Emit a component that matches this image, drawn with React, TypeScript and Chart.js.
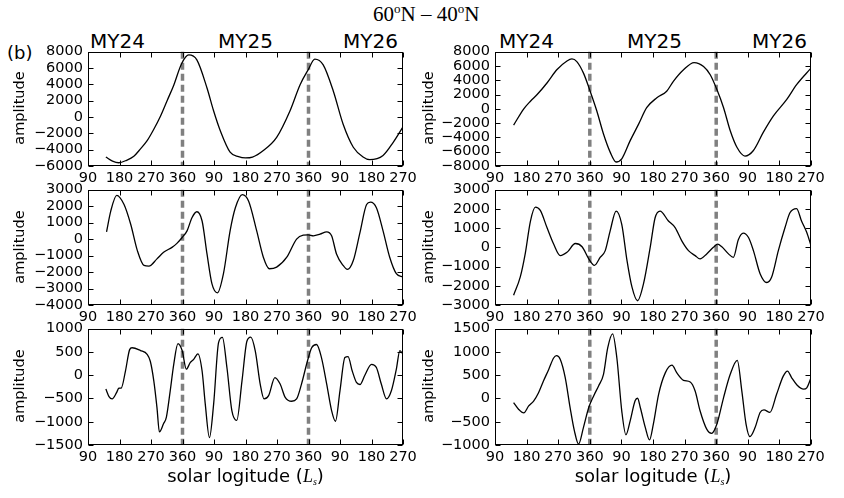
import React, { useEffect, useRef } from 'react';
import { Chart, registerables } from 'chart.js';

Chart.register(...registerables);

// ---- shared axis data ----
const X_MIN = 90;
const X_MAX = 990;
const X_STEP = 90;
const YEAR_BOUNDARIES = [360, 720];
const YEAR_LABELS = ['MY24', 'MY25', 'MY26'];

// ---- top-left panel ----
const lsTopLeft = [141, 160, 178, 200, 221, 240, 259, 278, 297, 316, 335, 357, 378, 401, 430, 449, 468, 496, 520, 540, 560, 591, 629, 667, 696, 719, 738, 762, 791, 819, 848, 876, 895, 933, 962, 990];
const ampTopLeft = [-4900, -5400, -5600, -5300, -4800, -3900, -2900, -1500, 100, 2000, 3900, 6500, 7600, 7000, 3560, 740, -1680, -4300, -4850, -5000, -4900, -4100, -2490, 740, 3960, 5780, 7100, 6390, 3160, -890, -3700, -4900, -5230, -4710, -3100, -1200];

// ---- top-right panel ----
const lsTopRight = [143, 172, 191, 210, 238, 266, 295, 309, 323, 342, 361, 380, 399, 418, 435, 451, 475, 499, 522, 551, 579, 598, 627, 657, 684, 703, 722, 741, 760, 779, 802, 826, 854, 883, 921, 949, 990];
const ampTopRight = [-2280, 0, 1070, 2000, 3620, 5465, 6700, 6985, 6620, 5000, 2470, -300, -3525, -6060, -7440, -7000, -4450, -2140, 160, 1550, 2470, 3850, 5465, 6480, 5925, 4770, 2700, 160, -3065, -5370, -6610, -5830, -3300, -990, 1320, 3390, 5700];

// ---- middle-left panel ----
const lsMidLeft = [143, 155, 172, 193, 212, 231, 250, 264, 287, 306, 330, 344, 359, 373, 387, 401, 416, 430, 444, 460, 477, 496, 511, 531, 549, 572, 591, 608, 629, 658, 686, 705, 719, 734, 753, 772, 786, 800, 819, 831, 848, 867, 886, 897, 914, 933, 952, 971, 990];
const ampMidLeft = [440, 1700, 2660, 2100, 900, -700, -1600, -1640, -1200, -800, -500, -260, 100, 500, 1300, 1660, 1100, -900, -2700, -3260, -2100, 500, 1900, 2700, 2300, 500, -1100, -1800, -1700, -1100, 0, 240, 260, 200, 300, 440, 200, -900, -1600, -1840, -1300, 400, 2100, 2240, 1900, 500, -1100, -2100, -2300];

// ---- middle-right panel ----
const lsMidRight = [143, 162, 176, 191, 205, 219, 238, 257, 276, 295, 319, 338, 357, 373, 390, 404, 418, 435, 451, 466, 480, 496, 513, 532, 546, 560, 584, 603, 622, 641, 660, 674, 693, 712, 724, 736, 755, 769, 783, 797, 812, 826, 845, 864, 878, 897, 916, 930, 949, 963, 978, 990];
const ampMidRight = [-2490, -1540, -340, 1370, 2090, 1920, 1030, 170, -430, -260, 200, 30, -600, -940, -510, -170, 860, 1890, 1200, -690, -2060, -2780, -1890, 0, 1540, 1890, 1370, 1030, 340, -170, -430, -600, -340, 0, 170, 30, -340, -520, 400, 740, 510, -170, -1370, -1830, -1540, -170, 1030, 1800, 2020, 1370, 770, 90];

// ---- bottom-left panel ----
const lsBotLeft = [141, 150, 159, 172, 178, 185, 197, 209, 216, 240, 259, 268, 278, 287, 294, 306, 314, 325, 335, 347, 359, 371, 382, 392, 404, 416, 425, 437, 449, 463, 474, 487, 501, 515, 530, 544, 555, 568, 582, 593, 606, 624, 639, 653, 672, 686, 700, 717, 729, 743, 757, 772, 786, 797, 810, 824, 833, 845, 857, 867, 881, 900, 914, 928, 943, 957, 971, 981, 990];
const ampBotLeft = [-296, -460, -510, -370, -280, -275, 90, 550, 590, 530, 450, 300, -120, -690, -1220, -1040, -900, -330, 235, 680, 530, 130, 270, 340, 460, 90, -615, -1340, -615, 700, 815, 160, -760, -970, -120, 730, 820, 520, -190, -510, -440, -50, -190, -470, -560, -510, -190, 305, 590, 660, 380, -190, -760, -990, -330, 380, 400, 90, -155, -200, 0, 235, 165, -190, -510, -330, 130, 530, 450];

// ---- bottom-right panel ----
const lsBotRight = [143, 157, 172, 186, 200, 214, 228, 243, 257, 265, 276, 290, 304, 316, 328, 342, 357, 371, 385, 399, 411, 425, 437, 451, 463, 475, 489, 496, 504, 518, 530, 541, 556, 575, 594, 608, 627, 646, 660, 674, 693, 707, 722, 741, 760, 780, 793, 805, 816, 831, 845, 856, 873, 892, 911, 923, 935, 950, 969, 978, 990];
const ampBotRight = [-88, -230, -310, -160, -55, 125, 375, 625, 870, 920, 840, 450, -200, -690, -980, -620, -195, 55, 270, 520, 1090, 1390, 875, -265, -780, -480, -50, 5, -200, -620, -890, -550, 90, 550, 715, 550, 390, 355, 160, -265, -660, -750, -550, 20, 520, 820, 160, -550, -820, -620, -300, -245, -300, 90, 480, 590, 445, 290, 200, 230, 445];

const PAD_L = 62;
const PAD_T = 12;
const PAD_R = 24;
const PAD_B = 26;
const TICK_FONT = { family: 'DejaVu Sans', size: 14.5 };

const framePlugin = {
  id: 'mplFrame',
  beforeDatasetsDraw(chart: any) {
    const { ctx, chartArea, scales } = chart;
    ctx.save();
    ctx.strokeStyle = '#808080';
    ctx.lineWidth = 3.5;
    ctx.setLineDash([7, 4]);
    for (const b of YEAR_BOUNDARIES) {
      const px = scales.x.getPixelForValue(b);
      ctx.beginPath();
      ctx.moveTo(px, chartArea.top);
      ctx.lineTo(px, chartArea.bottom);
      ctx.stroke();
    }
    ctx.restore();
  },
  afterDraw(chart: any) {
    const { ctx, chartArea, scales } = chart;
    const l = Math.round(chartArea.left) + 0.5;
    const r = Math.round(chartArea.right) - 0.5;
    const t = Math.round(chartArea.top) + 0.5;
    const b = Math.round(chartArea.bottom) - 0.5;
    ctx.save();
    ctx.strokeStyle = '#000';
    ctx.lineWidth = 1;
    ctx.setLineDash([]);
    ctx.strokeRect(l, t, r - l, b - t);
    const TL = 5;
    ctx.beginPath();
    for (const tk of scales.x.ticks) {
      const px = Math.round(scales.x.getPixelForValue(tk.value)) + 0.5;
      ctx.moveTo(px, t); ctx.lineTo(px, t + TL);
      ctx.moveTo(px, b); ctx.lineTo(px, b - TL);
    }
    for (const tk of scales.y.ticks) {
      const py = Math.round(scales.y.getPixelForValue(tk.value)) + 0.5;
      ctx.moveTo(l, py); ctx.lineTo(l + TL, py);
      ctx.moveTo(r, py); ctx.lineTo(r - TL, py);
    }
    ctx.stroke();
    ctx.restore();
  },
};

type PanelProps = {
  left: number; top: number; w: number; h: number;
  ls: number[]; amp: number[];
  yMin: number; yMax: number; yStep: number;
};

function Panel({ left, top, w, h, ls, amp, yMin, yMax, yStep }: PanelProps) {
  const ref = useRef<HTMLCanvasElement | null>(null);
  const cw = w + PAD_L + PAD_R;
  const chh = h + PAD_T + PAD_B;
  useEffect(() => {
    const chart = new Chart(ref.current as HTMLCanvasElement, {
      type: 'line',
      data: {
        datasets: [{
          data: ls.map((x, i) => ({ x, y: amp[i] })),
          borderColor: '#000',
          borderWidth: 1.3,
          pointRadius: 0,
          cubicInterpolationMode: 'monotone',
          fill: false,
        }],
      },
      options: {
        animation: false,
        responsive: false,
        devicePixelRatio: 1,
        layout: { padding: { left: 0, top: PAD_T, right: PAD_R, bottom: 0 } },
        plugins: { legend: { display: false }, tooltip: { enabled: false } },
        scales: {
          x: {
            type: 'linear',
            min: X_MIN,
            max: X_MAX,
            grid: { display: false, drawTicks: false },
            border: { display: false },
            ticks: {
              stepSize: X_STEP,
              autoSkip: false,
              maxRotation: 0,
              minRotation: 0,
              padding: 4,
              color: '#000',
              font: TICK_FONT,
              callback: (v: any) => {
                const m = Number(v) % 360;
                return m === 0 ? '360' : String(m);
              },
            },
            afterFit: (s: any) => { s.height = PAD_B; },
          },
          y: {
            type: 'linear',
            min: yMin,
            max: yMax,
            grid: { display: false, drawTicks: false },
            border: { display: false },
            ticks: {
              stepSize: yStep,
              autoSkip: false,
              padding: 5,
              color: '#000',
              font: TICK_FONT,
              callback: (v: any) => String(v).replace('-', '\u2212'),
            },
            afterFit: (s: any) => { s.width = PAD_L; },
          },
        },
      } as any,
      plugins: [framePlugin],
    });
    return () => chart.destroy();
  }, []);
  return (
    <canvas
      ref={ref}
      width={cw}
      height={chh}
      style={{ position: 'absolute', left: left - PAD_L, top: top - PAD_T, width: cw, height: chh }}
    />
  );
}

const sans = "'DejaVu Sans', sans-serif";

function YLabel({ cx, cy }: { cx: number; cy: number }) {
  return (
    <div style={{
      position: 'absolute', left: cx, top: cy, fontFamily: sans, fontSize: 14.5, lineHeight: 1,
      whiteSpace: 'nowrap', transform: 'translate(-50%, -50%) rotate(-90deg)', color: '#000',
    }}>amplitude</div>
  );
}

function XLabel({ cx }: { cx: number }) {
  return (
    <div style={{
      position: 'absolute', left: cx, top: 467, fontFamily: sans, fontSize: 18, lineHeight: 1,
      whiteSpace: 'nowrap', transform: 'translateX(-50%)', color: '#000',
    }}>
      solar logitude (<span style={{ fontFamily: "'Liberation Serif', serif", fontStyle: 'italic' }}>L</span>
      <span style={{ fontFamily: "'Liberation Serif', serif", fontStyle: 'italic', fontSize: 10, position: 'relative', top: 3 }}>s</span>)
    </div>
  );
}

function YearLabel({ x, text }: { x: number; text: string }) {
  return (
    <div style={{
      position: 'absolute', left: x, top: 31, fontFamily: sans, fontSize: 20, lineHeight: 1,
      whiteSpace: 'nowrap', color: '#000',
    }}>{text}</div>
  );
}

export default function App() {
  const L = 88, R = 495, W = 315, WR = 316;
  const rows = [
    { top: 50, h: 116 },
    { top: 188, h: 117 },
    { top: 327, h: 118 },
  ];
  const yearXLeft = [90, 218, 343];
  const yearXRight = [499, 627, 752];
  return (
    <div style={{ position: 'fixed', left: 0, top: 0, width: 844, height: 498, background: '#fff', overflow: 'hidden' }}>
      <div style={{
        position: 'absolute', left: 373, top: 4, fontFamily: "'Liberation Serif', serif", fontSize: 21,
        lineHeight: 1, whiteSpace: 'nowrap', color: '#000',
      }}>
        60<sup style={{ fontSize: 13, verticalAlign: 'baseline', position: 'relative', top: -8 }}>o</sup>N – 40<sup style={{ fontSize: 13, verticalAlign: 'baseline', position: 'relative', top: -8 }}>o</sup>N
      </div>
      <div style={{ position: 'absolute', left: 7, top: 44, fontFamily: sans, fontSize: 18, lineHeight: 1, color: '#000' }}>(b)</div>
      {YEAR_LABELS.map((t, i) => <YearLabel key={'l' + t} x={yearXLeft[i]} text={t} />)}
      {YEAR_LABELS.map((t, i) => <YearLabel key={'r' + t} x={yearXRight[i]} text={t} />)}

      <Panel left={L} top={rows[0].top} w={W} h={rows[0].h} ls={lsTopLeft} amp={ampTopLeft} yMin={-6000} yMax={8000} yStep={2000} />
      <Panel left={R} top={rows[0].top} w={WR} h={rows[0].h} ls={lsTopRight} amp={ampTopRight} yMin={-8000} yMax={8000} yStep={2000} />
      <Panel left={L} top={rows[1].top} w={W} h={rows[1].h} ls={lsMidLeft} amp={ampMidLeft} yMin={-4000} yMax={3000} yStep={1000} />
      <Panel left={R} top={rows[1].top} w={WR} h={rows[1].h} ls={lsMidRight} amp={ampMidRight} yMin={-3000} yMax={3000} yStep={1000} />
      <Panel left={L} top={rows[2].top} w={W} h={rows[2].h} ls={lsBotLeft} amp={ampBotLeft} yMin={-1500} yMax={1000} yStep={500} />
      <Panel left={R} top={rows[2].top} w={WR} h={rows[2].h} ls={lsBotRight} amp={ampBotRight} yMin={-1000} yMax={1500} yStep={500} />

      {rows.map((r, i) => <YLabel key={'yl' + i} cx={19} cy={r.top + r.h / 2} />)}
      {rows.map((r, i) => <YLabel key={'yr' + i} cx={428} cy={r.top + r.h / 2} />)}
      <XLabel cx={L + W / 2} />
      <XLabel cx={R + WR / 2} />
    </div>
  );
}
